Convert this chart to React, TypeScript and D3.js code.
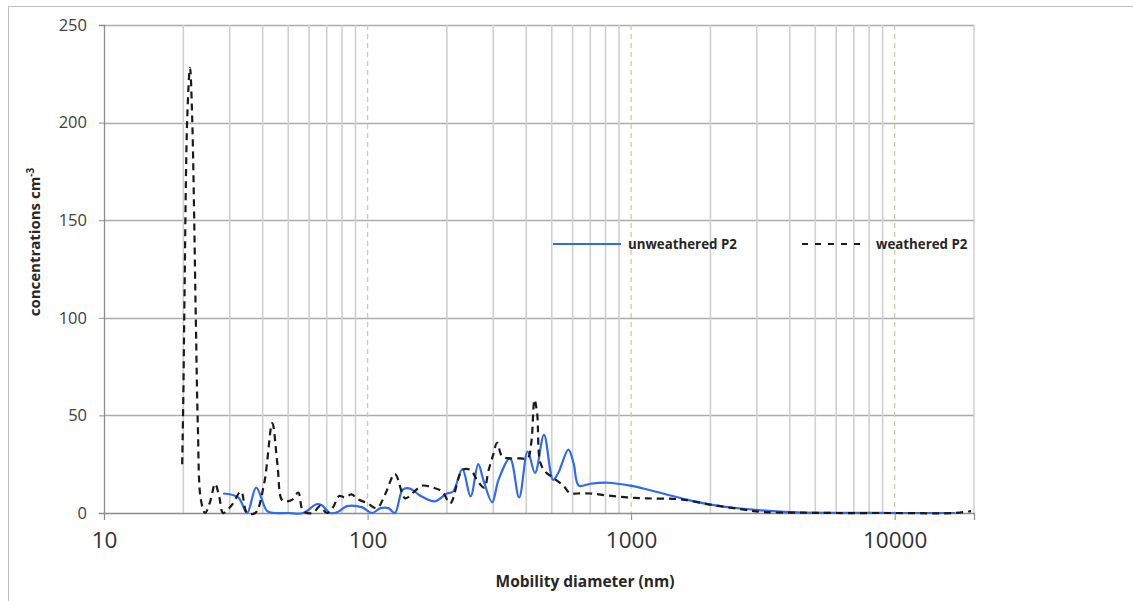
import React, { useEffect, useRef } from "react";
import * as d3 from "d3";

// weathered P2 (dashed black)
const weatheredD = [19.8, 20.0, 20.2, 20.7, 21.2, 21.6, 22.3, 22.7, 23.3, 24.2, 25.3, 26.4, 27.4, 28.3, 30.5, 33.1, 34.9, 37.5, 40.5, 43.5, 45.5, 47.4, 49.5, 52, 54.6, 57, 62, 66, 70, 74, 78, 82, 87, 92, 100, 108.5, 117, 127, 139, 149, 161, 177, 192, 206, 229, 246, 260, 277, 288, 300, 310, 324, 347, 380, 405, 418, 430, 440, 452, 474, 506, 553, 588, 624, 700, 813, 966, 1150, 1530, 2060, 2600, 3170, 4270, 6000, 10000, 16700, 19500];
const weatheredC = [25, 60, 110, 203, 228, 203, 100, 45, 7, 0, 6, 15, 8, 0, 4, 11, 0, 0, 15, 46, 25, 6.5, 6, 7, 10.5, 1, 0, 3.5, 0, 3, 8.7, 8, 9.5, 7, 5, 2.5, 10, 20, 7.5, 10.5, 14, 13, 11, 5, 22, 22, 17, 13, 22, 30, 36, 29, 28, 28, 28, 36, 58, 51, 26, 21, 18, 14, 10, 10, 10, 9, 8, 7.5, 7, 4, 2, 0.5, 0.2, 0, 0, 0, 1];

// unweathered P2 (solid blue)
const unweatheredD = [28.3, 32.3, 34.9, 37.8, 41.6, 44.5, 50, 57, 64, 67, 72, 77, 83.5, 95, 104, 112, 120, 127, 136, 145, 158, 180, 200, 211, 229, 246, 263, 275, 297, 314, 347, 376, 405, 432, 467, 506, 529, 578, 605, 633, 700, 813, 993, 1320, 1670, 2180, 3030, 4270, 6000, 10000, 17000];
const unweatheredC = [10, 8, 0, 13, 1, 0, 0, 0, 4.5, 4, 0, 0.5, 3.5, 3, 0, 2.5, 2.5, 0, 12, 12.5, 9, 6, 10, 11, 22.5, 8.5, 25, 17, 5.5, 17, 28, 8, 31.5, 20.5, 40, 17, 20.5, 32.5, 25.5, 14, 15, 15.5, 14, 10, 6.5, 3.5, 1.5, 0.3, 0.1, 0, 0];

const yTicks = [0, 50, 100, 150, 200, 250];
const xMajor = [10, 100, 1000, 10000];
const xMinor = [20, 30, 40, 50, 60, 70, 80, 90, 200, 300, 400, 500, 600, 700, 800, 900, 2000, 3000, 4000, 5000, 6000, 7000, 8000, 9000];
const seriesNames = ["unweathered P2", "weathered P2"];

const font = "'Open Sans', 'Liberation Sans', sans-serif";

export default function App() {
  const ref = useRef<SVGSVGElement>(null);

  useEffect(() => {
    const svg = d3.select(ref.current);
    svg.selectAll("*").remove();

    const x = d3.scaleLog().domain([10, 20000]).range([104, 974]);
    const y = d3.scaleLinear().domain([0, 250]).range([513, 25]);

    // outer frame
    svg.append("line").attr("x1", 8).attr("x2", 1133).attr("y1", 6.5).attr("y2", 6.5)
      .attr("stroke", "#c0c0c0").attr("stroke-width", 1);
    svg.append("line").attr("x1", 8.5).attr("x2", 8.5).attr("y1", 6).attr("y2", 601)
      .attr("stroke", "#c0c0c0").attr("stroke-width", 1);

    const g = svg.append("g");

    // horizontal gridlines
    g.selectAll(".hgrid").data(yTicks.slice(1)).enter().append("line")
      .attr("x1", 104).attr("x2", 974)
      .attr("y1", d => Math.round(y(d)) + 0.5).attr("y2", d => Math.round(y(d)) + 0.5)
      .attr("stroke", "#adadad").attr("stroke-width", 1.3);

    // vertical minor gridlines
    g.selectAll(".vgrid").data(xMinor).enter().append("line")
      .attr("x1", d => x(d)).attr("x2", d => x(d))
      .attr("y1", 25).attr("y2", 513)
      .attr("stroke", "#d0d0d0").attr("stroke-width", 1.6);

    // vertical major gridlines (dashed)
    g.selectAll(".vmaj").data(xMajor.slice(1)).enter().append("line")
      .attr("x1", d => x(d)).attr("x2", d => x(d))
      .attr("y1", 25).attr("y2", 513)
      .attr("stroke", "#c9d29a").attr("stroke-width", 1.3)
      .attr("stroke-dasharray", "5,4");

    // right border of plot area
    g.append("line").attr("x1", 974).attr("x2", 974).attr("y1", 25).attr("y2", 513)
      .attr("stroke", "#c8c8c8").attr("stroke-width", 1.3);

    // y axis
    const yAxis = d3.axisLeft(y).tickValues(yTicks).tickSize(5).tickPadding(12);
    const ya = g.append("g").attr("transform", "translate(104,0)").call(yAxis);
    ya.select(".domain").attr("stroke", "#8c8c8c").attr("stroke-width", 1.3);
    ya.selectAll(".tick line").attr("stroke", "#8c8c8c");
    ya.selectAll(".tick text").attr("font-family", font).attr("font-size", 16.5).attr("fill", "#404040");

    // x axis
    const xAxis = d3.axisBottom(x).tickValues(xMajor).tickSize(7).tickPadding(12)
      .tickFormat(d => String(d));
    const xa = g.append("g").attr("transform", "translate(0,513)").call(xAxis);
    xa.select(".domain").attr("stroke", "#8c8c8c").attr("stroke-width", 1.3);
    xa.selectAll(".tick line").attr("stroke", "#8c8c8c");
    xa.selectAll(".tick text").attr("font-family", font).attr("font-size", 22.5).attr("fill", "#333333");

    const line = d3.line<[number, number]>()
      .x(d => x(d[0])).y(d => y(d[1]))
      .curve(d3.curveCatmullRom.alpha(0.5));

    const wData = weatheredD.map((d, i) => [d, weatheredC[i]] as [number, number]);
    const uData = unweatheredD.map((d, i) => [d, unweatheredC[i]] as [number, number]);

    g.append("path").attr("d", line(uData))
      .attr("fill", "none").attr("stroke", "#3069f5").attr("stroke-width", 2.2);
    g.append("path").attr("d", line(wData))
      .attr("fill", "none").attr("stroke", "#1a1a1a").attr("stroke-width", 2.2)
      .attr("stroke-dasharray", "7,5");

    // legend
    const lg = svg.append("g").attr("font-family", font).attr("font-weight", "bold")
      .attr("font-size", 13.3).attr("fill", "#262626");
    lg.append("line").attr("x1", 553).attr("x2", 621).attr("y1", 244).attr("y2", 244)
      .attr("stroke", "#3069f5").attr("stroke-width", 2.2);
    lg.append("text").attr("x", 628).attr("y", 249).text(seriesNames[0]);
    lg.append("line").attr("x1", 802).attr("x2", 864).attr("y1", 244).attr("y2", 244)
      .attr("stroke", "#1a1a1a").attr("stroke-width", 2.2).attr("stroke-dasharray", "6,7");
    lg.append("text").attr("x", 876).attr("y", 249).text(seriesNames[1]);

    // axis titles
    svg.append("text").attr("x", 585).attr("y", 587).attr("text-anchor", "middle")
      .attr("font-family", font).attr("font-weight", "bold").attr("font-size", 15.5)
      .attr("fill", "#262626").text("Mobility diameter (nm)");

    const yt = svg.append("text").attr("transform", "translate(40,242) rotate(-90)")
      .attr("text-anchor", "middle").attr("font-family", font).attr("font-weight", "bold")
      .attr("font-size", 15).attr("fill", "#262626");
    yt.append("tspan").text("concentrations cm");
    yt.append("tspan").attr("dy", -6).attr("font-size", 10).text("-3");
  }, []);

  return (
    <svg ref={ref} width={1133} height={601}
      style={{ position: "absolute", left: 0, top: 0, background: "#fff" }} />
  );
}
